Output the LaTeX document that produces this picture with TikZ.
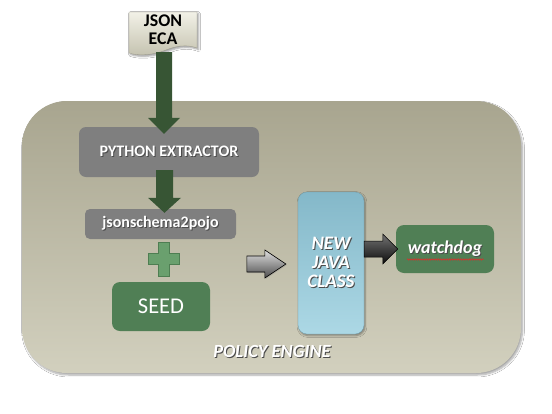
\documentclass[tikz,border=0pt]{standalone}
\usepackage{fontspec}
\setmainfont{Carlito}
\usetikzlibrary{calc,shadows,shadows.blur,decorations.pathmorphing}
\definecolor{bgtop}{RGB}{168,165,143}
\definecolor{bgbot}{RGB}{210,208,190}
\definecolor{darkarrow}{RGB}{55,85,52}
\definecolor{boxgray}{RGB}{127,127,127}
\definecolor{seedgreen}{RGB}{80,127,85}
\definecolor{plusgreen}{RGB}{106,160,110}
\definecolor{plusedge}{RGB}{78,126,82}
\definecolor{javatop}{RGB}{132,184,201}
\definecolor{javabot}{RGB}{172,216,229}
\definecolor{doctop}{RGB}{242,241,231}
\definecolor{docbot}{RGB}{196,194,175}
\definecolor{spellred}{RGB}{230,40,40}
\newcommand\shd[1]{\leavevmode\rlap{\kern1pt\raisebox{-1pt}{\textcolor{black!70}{#1}}}#1}
\tikzset{
  container/.style={rounded corners=45pt, top color=bgtop, bottom color=bgbot, draw=none,
    blur shadow={shadow xshift=1.5pt, shadow yshift=-2pt, shadow blur steps=6, shadow opacity=35}},
  graybox/.style={fill=boxgray, rounded corners=7pt, inner sep=0pt, text=white, font=\bfseries},
  greenbox/.style={fill=seedgreen, rounded corners=8pt, inner sep=0pt, text=white},
  javabox/.style={top color=javatop, bottom color=javabot, rounded corners=9pt, inner sep=0pt,
    draw=javatop!85!black, line width=0.3pt, text=white, font=\bfseries\itshape\fontsize{19}{19}\selectfont,
    align=center, blur shadow={shadow xshift=1pt, shadow yshift=-1.5pt, shadow blur steps=4, shadow opacity=40}},
  blockarrow/.style={fill=darkarrow, draw=none},
  lbl/.style={inner sep=0pt}
}
\begin{document}
\begin{tikzpicture}[x=1pt,y=-1pt]
\useasboundingbox (0,0) rectangle (552,413);
\fill[white] (0,0) rectangle (552,413);

% container
\node[container, minimum width=499pt, minimum height=272pt] (pe) at (271.5,237) {};
\node[lbl, text=white, font=\bfseries\itshape\fontsize{18.5}{19}\selectfont] (pelabel) at (272,352) {\shd{POLICY ENGINE}};

% JSON ECA document
\path[top color=doctop, bottom color=docbot, draw=docbot!80!black, line width=0.3pt,
  blur shadow={shadow xshift=1.5pt, shadow yshift=-1.5pt, shadow blur steps=4, shadow opacity=40}]
  (129,12) -- (197,12) -- (197,48) .. controls (180,42) and (168,50) .. (160,52)
  .. controls (150,55) and (138,56) .. (129,53) -- cycle;
\node[lbl, font=\bfseries\fontsize{17.8}{18}\selectfont, align=center] (json) at (163,30) {JSON\\ECA};
\coordinate (jsonbot) at (164,52);

% python extractor
\node[graybox, minimum width=180pt, minimum height=50pt, font=\bfseries\fontsize{16}{17}\selectfont] (py) at (169,152) {\shd{PYTHON EXTRACTOR}};

% jsonschema2pojo
\node[graybox, rounded corners=5pt, minimum width=151pt, minimum height=30pt, font=\bfseries\fontsize{16}{16}\selectfont] (js) at (160.5,224) {\raisebox{2pt}{\shd{jsonschema2pojo}}};

% arrow 1: json -> python
\coordinate (t1) at (jsonbot |- py.north);
\fill[blockarrow] ($(jsonbot)+(-8,0)$) -- ($(t1)+(-8,-9)$) -- ($(t1)+(-16,-9)$) -- ($(t1)+(0,7)$)
  -- ($(t1)+(16,-9)$) -- ($(t1)+(8,-9)$) -- ($(jsonbot)+(8,0)$) -- cycle;

% arrow 2: python -> jsonschema2pojo
\coordinate (s2) at ($(jsonbot |- py.south)+(0.5,-7)$);
\coordinate (t2) at ($(jsonbot |- js.north)+(0.5,4)$);
\fill[blockarrow] ($(s2)+(-8.5,0)$) -- ($(t2)+(-8.5,-15)$) -- ($(t2)+(-16.5,-15)$) -- (t2)
  -- ($(t2)+(16.5,-15)$) -- ($(t2)+(8.5,-15)$) -- ($(s2)+(8.5,0)$) -- cycle;

% plus sign
\coordinate (plus) at (163.5,259);
\path[fill=plusgreen, draw=plusedge, line width=0.8pt]
  ($(plus)+(-5.5,-17)$) -- ($(plus)+(5.5,-17)$) -- ($(plus)+(5.5,-5.5)$) -- ($(plus)+(15.5,-5.5)$)
  -- ($(plus)+(15.5,5.5)$) -- ($(plus)+(5.5,5.5)$) -- ($(plus)+(5.5,17)$) -- ($(plus)+(-5.5,17)$)
  -- ($(plus)+(-5.5,5.5)$) -- ($(plus)+(-15.5,5.5)$) -- ($(plus)+(-15.5,-5.5)$) -- ($(plus)+(-5.5,-5.5)$) -- cycle;

% SEED
\node[greenbox, minimum width=98pt, minimum height=49pt, font=\fontsize{22.5}{24}\selectfont] (seed) at (161,306.5) {SEED};

% NEW JAVA CLASS
\node[javabox, minimum width=66pt, minimum height=142pt] (java) at (331,263) {\shd{NEW}\\\shd{JAVA}\\\shd{CLASS}};

% watchdog
\node[greenbox, minimum width=98pt, minimum height=48pt, font=\bfseries\itshape\fontsize{18}{19}\selectfont] (wd) at (445,249) {\raisebox{-1pt}{\shd{watchdog}}};
\draw[spellred, line width=0.45pt, decorate, decoration={snake, amplitude=0.8pt, segment length=2.2pt}]
  ($(wd.center)+(-38,10.5)$) -- ($(wd.center)+(39,10.5)$);

% gray arrow -> java
\coordinate (g2) at ($(java.west)+(-12,1)$);
\coordinate (g1) at ($(g2)+(-39,0)$);
\path[top color=gray!25, bottom color=black!70, draw=black, line width=0.6pt,
  drop shadow={shadow xshift=1pt, shadow yshift=-1pt, opacity=0.3}]
  ($(g1)+(0,-8)$) -- ($(g2)+(-21,-8)$) -- ($(g2)+(-21,-14)$) -- (g2) -- ($(g2)+(-21,14)$)
  -- ($(g2)+(-21,8)$) -- ($(g1)+(0,8)$) -- cycle;

% black arrow java -> watchdog
\coordinate (b1) at (java.east |- wd.west);
\coordinate (b2) at ($(wd.west)+(2,0)$);
\path[top color=black!55, bottom color=black!95, draw=black, line width=0.5pt]
  ($(b1)+(0,-8)$) -- ($(b2)+(-15,-8)$) -- ($(b2)+(-15,-15)$) -- (b2) -- ($(b2)+(-15,15)$)
  -- ($(b2)+(-15,8)$) -- ($(b1)+(0,8)$) -- cycle;
\end{tikzpicture}
\end{document}
